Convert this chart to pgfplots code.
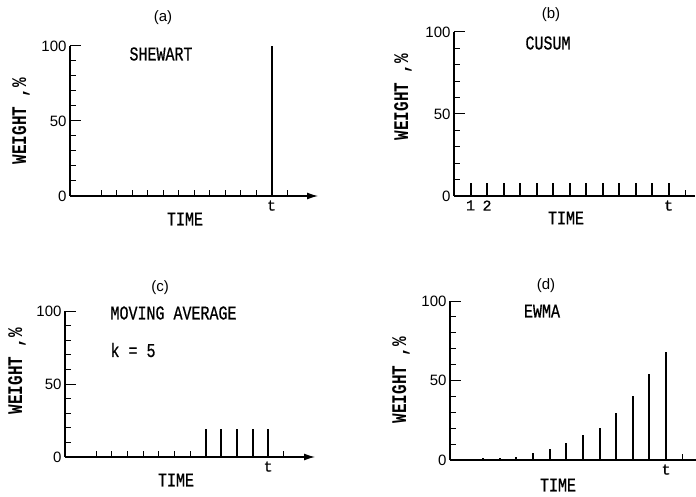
\documentclass[border=0pt]{standalone}
\usepackage{fontspec}
\setmainfont{Liberation Sans}
\newfontfamily\mono{Liberation Mono}
\newfontfamily\monoh[FakeBold=0.8]{Liberation Mono}
\usepackage{pgfplots}
\pgfplotsset{compat=1.18}
\usetikzlibrary{arrows.meta}

\pgfplotsset{
  panel/.style={
    scale only axis, anchor=south west, clip=false,
    axis x line=bottom, axis y line=left,
    x axis line style={line width=1.2pt},
    y axis line style={line width=1.2pt, -},
    xmin=0, ymin=0, ymax=100,
    ytick={0,10,...,100}, yticklabels={0,,,,,50,,,,,100},
    tick align=inside, major tick length=6pt,
    tick style={black, line width=1pt},
    yticklabel style={font=\fontsize{15}{15}\selectfont,
      /pgf/number format/assume math mode=true},
    xticklabel style={font=\monoh\fontsize{15}{15}\selectfont, yshift=-1pt},
    extra y ticks={50,100}, extra y tick labels={},
    extra y tick style={major tick length=11pt},
  },
  arrowx/.style={x axis line style={-{Latex[length=11pt,width=7pt]}}},
  plainx/.style={x axis line style={-}},
  spike/.style={ycomb, black, line width=2pt, mark=none},
}

\begin{document}
\begin{tikzpicture}

% (a) Shewhart
\begin{axis}[panel, arrowx, at={(70pt,300pt)}, width=248pt, height=150pt,
  xmax=16, xtick={2,...,14}, xticklabels={,,,,,,,,,,,t,}]
\addplot[spike] coordinates {(13,100)};
\end{axis}

% (b) CUSUM
\begin{axis}[panel, plainx, at={(454pt,300pt)}, width=241pt, height=164pt,
  xmax=14.6, xtick={1,...,14}, xticklabels={1,2,,,,,,,,,,,t,}]
\addplot[spike] coordinates {(1,8) (2,8) (3,8) (4,8) (5,8) (6,8) (7,8)
  (8,8) (9,8) (10,8) (11,8) (12,8) (13,8)};
\end{axis}

% (c) moving average
\begin{axis}[panel, arrowx, at={(65pt,39pt)}, width=250pt, height=146pt,
  xmax=16, xtick={2,...,14}, xticklabels={,,,,,,,,,,,t,}]
\addplot[spike] coordinates {(9,19) (10,19) (11,19) (12,19) (13,19)};
\end{axis}

% (d) EWMA
\begin{axis}[panel, plainx, at={(450pt,36pt)}, width=246pt, height=159pt,
  xmax=14.8, xtick={13,14}, xticklabels={t,}]
\addplot[spike] coordinates {(2,1) (3,1) (4,1.9) (5,4.6) (6,6.7) (7,10.5)
  (8,15.5) (9,20.1) (10,29.4) (11,40.1) (12,53.9) (13,68.1)};
\end{axis}

\begin{scope}[x=1pt, y=-1pt, yshift=496pt]
  \tikzset{ttl/.style={font=\fontsize{15}{15}\selectfont},
    lbl/.style={font=\monoh\fontsize{15}{15}\selectfont, yscale=1.3},
    wgt/.style={font=\mono\bfseries\fontsize{16}{16}\selectfont, rotate=90, yscale=1.3}}
  \node[ttl] at (163,18) {(a)};
  \node[ttl] at (551,15) {(b)};
  \node[ttl] at (160,288) {(c)};
  \node[ttl] at (546,286) {(d)};
  \node[lbl] at (161,54) {SHEWART};
  \node[lbl] at (548,43) {CUSUM};
  \node[lbl, anchor=west] at (107,313) {MOVING AVERAGE};
  \node[lbl, anchor=west] at (107,350) {k = 5};
  \node[lbl] at (542,311) {EWMA};
  \node[lbl] at (185,219) {TIME};
  \node[lbl] at (566,218) {TIME};
  \node[lbl] at (176,480) {TIME};
  \node[lbl] at (558,485) {TIME};
  \node[wgt] at (21,121) {WEIGHT ,\%};
  \node[wgt] at (403,97) {WEIGHT ,\%};
  \node[wgt] at (17,371) {WEIGHT ,\%};
  \node[wgt] at (401,380) {WEIGHT ,\%};
\end{scope}

\pgfresetboundingbox
\path[use as bounding box] (0,0) rectangle (696pt,496pt);
\end{tikzpicture}
\end{document}
